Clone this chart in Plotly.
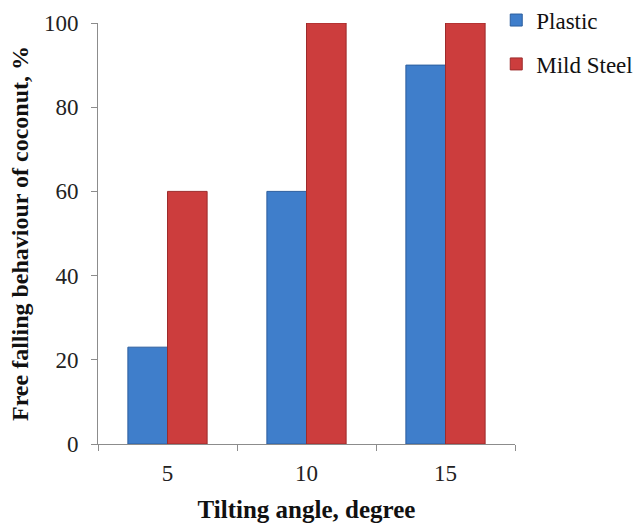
import plotly.graph_objects as go

# Tilting angle categories and free-falling percentages per surface material
angles = ["5", "10", "15"]
plastic = [23, 60, 90]
mild_steel = [60, 100, 100]

y_ticks = [0, 20, 40, 60, 80, 100]

serif = "Liberation Serif"

fig = go.Figure()
fig.add_trace(go.Bar(
    x=angles, y=plastic, name="Plastic", legendgroup="p",
    marker=dict(color="#3F7ECB", line=dict(color="#2C5E9E", width=1)),
))
fig.add_trace(go.Bar(
    x=angles, y=mild_steel, name="Mild Steel", legendgroup="m",
    marker=dict(color="#CC3D3D", line=dict(color="#9C2B2B", width=1)),
))

fig.update_layout(
    width=641, height=523,
    margin=dict(l=98, r=126, t=23, b=79, autoexpand=False),
    paper_bgcolor="white", plot_bgcolor="white",
    barmode="group", bargap=0.43, bargroupgap=0,
    font=dict(family=serif, size=23, color="#222222"),
    showlegend=True,
    legend=dict(
        x=0.955, y=1.058, xanchor="left", yanchor="top",
        font=dict(family=serif, size=23, color="#111111"),
        tracegroupgap=11, bgcolor="rgba(0,0,0,0)",
    ),
    xaxis=dict(
        showline=True, linecolor="#8C8C8C", linewidth=1,
        ticks="outside", ticklen=6, tickcolor="#8C8C8C",
        tickson="boundaries", showgrid=False,
        ticklabelstandoff=8,
        tickfont=dict(family=serif, size=23, color="#222222"),
        title=dict(text="<b>Tilting angle, degree</b>", standoff=15,
                   font=dict(family=serif, size=25, color="#111111")),
    ),
    yaxis=dict(
        range=[0, 100], tickvals=y_ticks,
        showline=True, linecolor="#8C8C8C", linewidth=1,
        ticks="outside", ticklen=6, tickcolor="#8C8C8C",
        showgrid=False, zeroline=False,
        ticklabelstandoff=8,
        tickfont=dict(family=serif, size=23, color="#222222"),
        title=dict(text="<b>Free falling behaviour of coconut, %</b>", standoff=8,
                   font=dict(family=serif, size=24, color="#111111")),
    ),
)

fig.write_html("out.html")
